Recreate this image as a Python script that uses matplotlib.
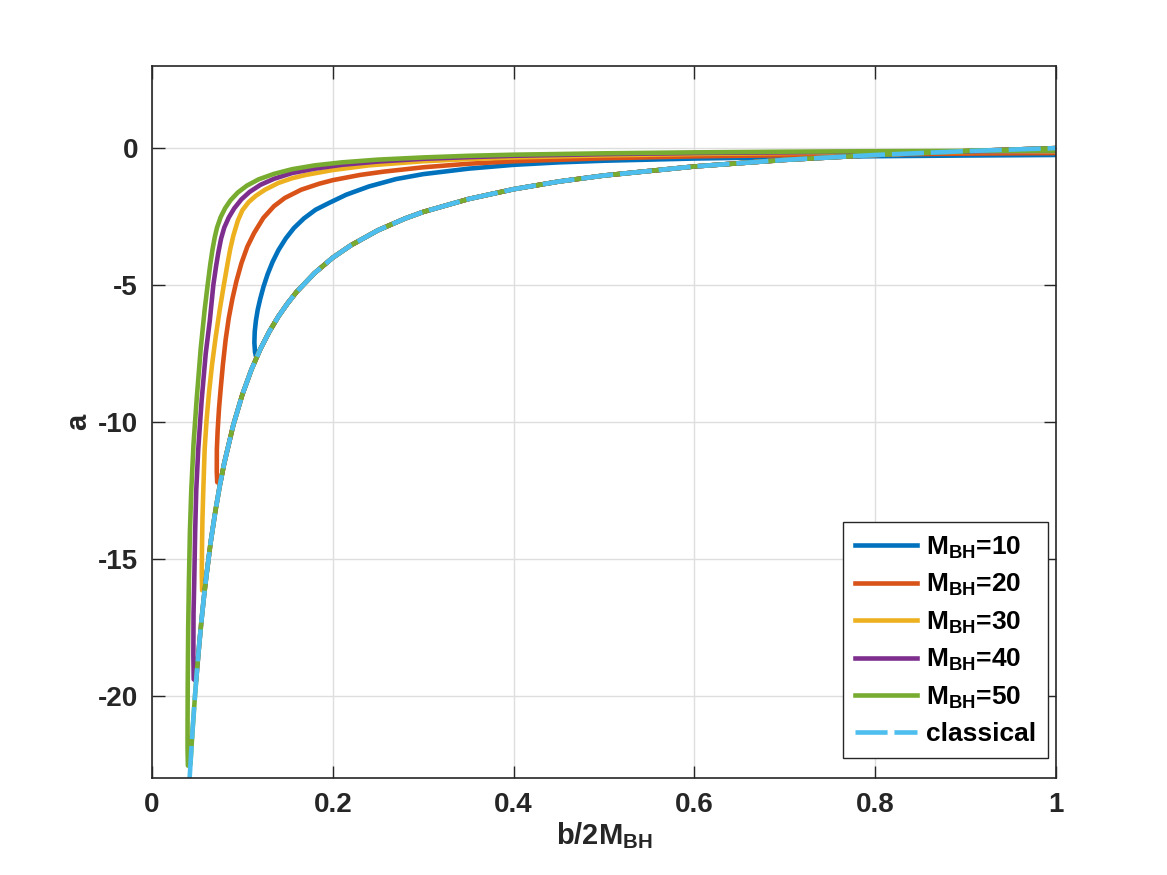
import matplotlib
matplotlib.use('Agg')
import matplotlib.pyplot as plt
from matplotlib.ticker import FormatStrFormatter

plt.rcParams['font.family'] = ['Liberation Sans', 'DejaVu Sans']
plt.rcParams['font.weight'] = 'bold'
plt.rcParams['mathtext.fontset'] = 'custom'
plt.rcParams['mathtext.rm'] = 'Liberation Sans:bold'
plt.rcParams['mathtext.bf'] = 'Liberation Sans:bold'
plt.rcParams['axes.unicode_minus'] = False

# classical curve
classical_b = [0.0417, 0.043, 0.045, 0.0475, 0.05, 0.0525, 0.055, 0.0575, 0.06, 0.065, 0.07, 0.075,
               0.08, 0.09, 0.1, 0.11, 0.12, 0.13, 0.14, 0.15, 0.16, 0.18, 0.2, 0.22, 0.25, 0.28,
               0.3, 0.35, 0.4, 0.45, 0.5, 0.6, 0.7, 0.8, 0.9, 1.0]
classical_a = [-23.0, -22.26, -21.22, -20.05, -19.0, -18.05, -17.18, -16.39, -15.67, -14.38, -13.29, -12.33,
               -11.5, -10.11, -9.0, -8.09, -7.33, -6.69, -6.14, -5.67, -5.25, -4.56, -4.0, -3.55, -3.0, -2.57,
               -2.33, -1.86, -1.5, -1.22, -1.0, -0.67, -0.43, -0.25, -0.11, 0.0]

# upper branches, from the cusp out to b=1
up_b_10 = [0.1155, 0.114, 0.1133, 0.1137, 0.115, 0.117, 0.1198, 0.1235, 0.128, 0.1335, 0.14, 0.148, 0.157,
           0.168, 0.181, 0.196, 0.215, 0.24, 0.27, 0.3, 0.35, 0.4, 0.45, 0.5, 0.6, 0.7, 0.8, 0.9, 1.0]
up_a_10 = [-7.66, -7.45, -7.1, -6.7, -6.3, -5.9, -5.5, -5.05, -4.6, -4.15, -3.72, -3.3, -2.92,
           -2.57, -2.25, -2.0, -1.7, -1.4, -1.13, -0.95, -0.75, -0.61, -0.52, -0.46, -0.38, -0.33, -0.295, -0.27, -0.25]

up_b_20 = [0.0755, 0.0722, 0.0717, 0.0718, 0.0727, 0.0742, 0.076, 0.0785, 0.0815, 0.085, 0.089, 0.0935,
           0.099, 0.1055, 0.113, 0.1232, 0.135, 0.147, 0.165, 0.185, 0.2, 0.23, 0.256, 0.3, 0.35, 0.4,
           0.5, 0.6, 0.7, 0.8, 0.9, 1.0]
up_a_20 = [-12.25, -12.2, -11.8, -11.0, -10.3, -9.5, -8.8, -7.9, -7.0, -6.2, -5.5, -4.85,
           -4.2, -3.6, -3.1, -2.55, -2.12, -1.82, -1.52, -1.3, -1.17, -0.98, -0.86, -0.7, -0.57, -0.48,
           -0.37, -0.3, -0.26, -0.23, -0.2, -0.18]

up_b_30 = [0.0585, 0.0555, 0.0551, 0.0554, 0.0559, 0.0568, 0.0583, 0.0605, 0.0632, 0.0665, 0.0705, 0.075,
           0.0795, 0.084, 0.0865, 0.09, 0.095, 0.1, 0.107, 0.115, 0.125, 0.14, 0.155, 0.17, 0.2, 0.24,
           0.3, 0.35, 0.4, 0.5, 0.6, 0.7, 0.8, 0.9, 1.0]
up_a_30 = [-16.1, -16.15, -15.5, -14.5, -13.5, -12.5, -11.0, -9.9, -8.9, -7.9, -6.9, -5.9,
           -5.0, -4.15, -3.7, -3.2, -2.65, -2.27, -1.97, -1.74, -1.52, -1.27, -1.1, -0.98, -0.8, -0.63,
           -0.48, -0.4, -0.34, -0.265, -0.215, -0.18, -0.155, -0.14, -0.125]

up_b_40 = [0.0489, 0.0462, 0.0458, 0.046, 0.0468, 0.0478, 0.049, 0.0512, 0.055, 0.0595, 0.064, 0.0679,
           0.071, 0.0735, 0.0765, 0.08, 0.085, 0.091, 0.099, 0.108, 0.12, 0.135, 0.155, 0.18, 0.21, 0.25,
           0.3, 0.35, 0.4, 0.5, 0.6, 0.7, 0.8, 0.9, 1.0]
up_a_40 = [-19.45, -19.4, -18.5, -17.0, -15.8, -14.0, -12.5, -11.0, -9.2, -7.5, -6.3, -5.0,
           -4.3, -3.8, -3.3, -2.9, -2.53, -2.2, -1.87, -1.6, -1.34, -1.12, -0.91, -0.75, -0.61, -0.49,
           -0.39, -0.33, -0.28, -0.22, -0.18, -0.155, -0.135, -0.12, -0.105]

up_b_50 = [0.0426, 0.0398, 0.0394, 0.0394, 0.0396, 0.0401, 0.0409, 0.042, 0.0435, 0.046, 0.0494, 0.054,
           0.0583, 0.0616, 0.0645, 0.067, 0.0695, 0.072, 0.076, 0.081, 0.087, 0.095, 0.105, 0.118, 0.135,
           0.155, 0.18, 0.21, 0.25, 0.3, 0.35, 0.4, 0.5, 0.6, 0.7, 0.8, 0.9, 1.0]
up_a_50 = [-22.5, -22.55, -22.0, -21.0, -19.5, -17.5, -15.8, -14.0, -12.5, -10.8, -9.2, -7.3,
           -5.9, -5.0, -4.25, -3.7, -3.25, -2.9, -2.52, -2.19, -1.9, -1.62, -1.37, -1.14, -0.94,
           -0.77, -0.63, -0.52, -0.42, -0.34, -0.28, -0.24, -0.19, -0.155, -0.13, -0.113, -0.1, -0.09]

masses = [10, 20, 30, 40, 50]
colors = ['#0072BD', '#D95319', '#EDB120', '#7E2F8E', '#77AC30']
upper = [(up_b_10, up_a_10), (up_b_20, up_a_20), (up_b_30, up_a_30), (up_b_40, up_a_40), (up_b_50, up_a_50)]

fig = plt.figure(figsize=(11.67, 8.75), dpi=100)
ax = fig.add_axes([0.1302, 0.1109, 0.7747, 0.8137])

for m, c, (ub, ua) in zip(masses, colors, upper):
    # upper branch back to the cusp, then the lower branch along the classical curve
    bb = ub[::-1] + [x for x in classical_b if x > ub[0]]
    aa = ua[::-1] + [y for x, y in zip(classical_b, classical_a) if x > ub[0]]
    ax.plot(bb, aa, color=c, lw=3.3, label=r'M$_\mathbf{BH}$=%d' % m, solid_joinstyle='round')

ax.plot(classical_b, classical_a, color='#4DBEEE', lw=3.3, dashes=(7, 1.5), label='classical')

ax.set_xlim(0, 1)
ax.set_ylim(-23, 3)
ax.set_xticks([0, 0.2, 0.4, 0.6, 0.8, 1])
ax.set_yticks([-20, -15, -10, -5, 0])
ax.xaxis.set_major_formatter(FormatStrFormatter('%g'))
ax.grid(True, color='#dedede', lw=1)
ax.set_axisbelow(True)
ax.tick_params(direction='in', length=9, width=1, top=True, right=True, labelsize=20,
               colors='#262626', pad=10)
for s in ax.spines.values():
    s.set_color('#262626')
    s.set_linewidth(1.2)

ax.set_xlabel(r'b/2M$_\mathbf{BH}$', fontsize=21, fontweight='bold', color='#262626', labelpad=2)
ax.set_ylabel('a', fontsize=21, fontweight='bold', color='#262626', labelpad=4)

leg = ax.legend(loc='lower right', bbox_to_anchor=(0.9912, 0.0281), borderaxespad=0, fontsize=19,
                frameon=True, fancybox=False, edgecolor='#262626', framealpha=1, handlelength=2.35,
                labelspacing=0.42, borderpad=0.45, handletextpad=0.35)
leg.get_frame().set_linewidth(1.0)

plt.savefig('out.png', dpi=100)
